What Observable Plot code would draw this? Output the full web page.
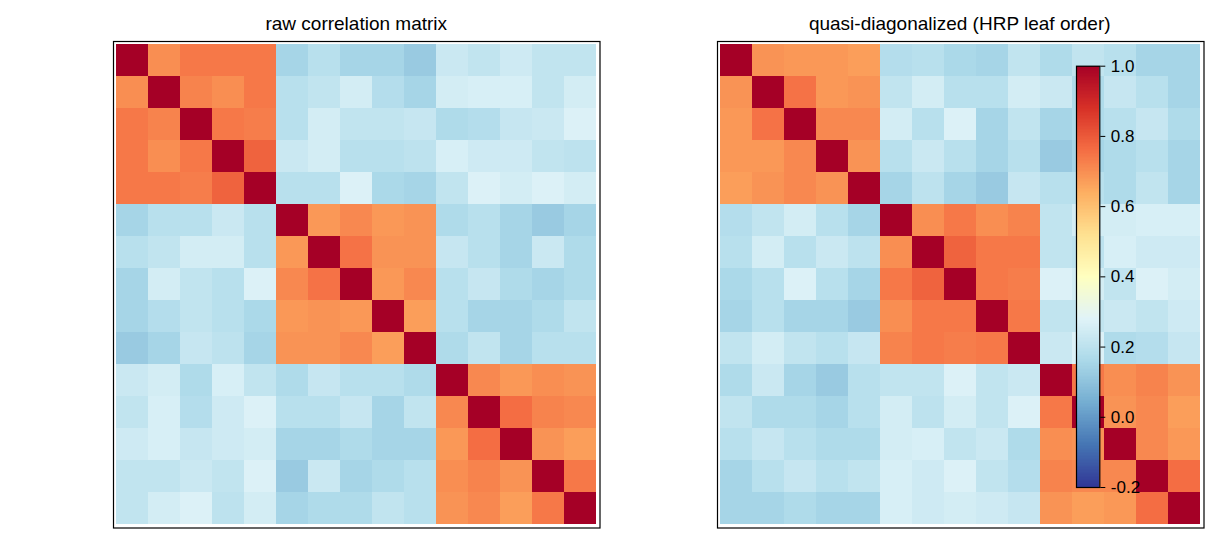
<!DOCTYPE html>
<html>
<head>
<meta charset="utf-8">
<script src="https://cdn.jsdelivr.net/npm/d3@7"></script>
<script src="https://cdn.jsdelivr.net/npm/@observablehq/plot@0.6"></script>
<style>
  html, body { margin: 0; padding: 0; background: #fff; }
  #root { position: relative; width: 1222px; height: 546px; overflow: hidden; font-family: "Liberation Sans", Arial, sans-serif; }
  .panel { position: absolute; }
  .title { position: absolute; font-size: 19px; line-height: 19px; color: #000; text-align: center; white-space: nowrap; }
  svg { overflow: visible; }
</style>
</head>
<body>
<div id="root"></div>
<script>
// ---- data: 15x15 raw correlation matrix ----
const rawCorr = [
  [1.00, 0.70, 0.74, 0.74, 0.74, 0.15, 0.19, 0.15, 0.15, 0.12, 0.23, 0.21, 0.24, 0.21, 0.21],
  [0.70, 1.00, 0.72, 0.70, 0.74, 0.19, 0.21, 0.25, 0.18, 0.15, 0.25, 0.26, 0.26, 0.21, 0.25],
  [0.74, 0.72, 1.00, 0.74, 0.73, 0.19, 0.25, 0.21, 0.21, 0.22, 0.17, 0.18, 0.22, 0.23, 0.27],
  [0.74, 0.70, 0.74, 1.00, 0.78, 0.23, 0.25, 0.19, 0.19, 0.20, 0.26, 0.24, 0.24, 0.21, 0.20],
  [0.74, 0.74, 0.73, 0.78, 1.00, 0.19, 0.19, 0.27, 0.16, 0.15, 0.21, 0.27, 0.25, 0.27, 0.25],
  [0.15, 0.19, 0.19, 0.23, 0.19, 1.00, 0.68, 0.71, 0.68, 0.69, 0.17, 0.19, 0.15, 0.12, 0.15],
  [0.19, 0.21, 0.25, 0.25, 0.19, 0.68, 1.00, 0.75, 0.69, 0.69, 0.22, 0.19, 0.15, 0.23, 0.17],
  [0.15, 0.25, 0.21, 0.19, 0.27, 0.71, 0.75, 1.00, 0.68, 0.71, 0.19, 0.22, 0.17, 0.15, 0.17],
  [0.15, 0.18, 0.21, 0.19, 0.16, 0.68, 0.69, 0.68, 1.00, 0.67, 0.19, 0.15, 0.15, 0.17, 0.21],
  [0.12, 0.15, 0.22, 0.20, 0.15, 0.69, 0.69, 0.71, 0.67, 1.00, 0.17, 0.21, 0.15, 0.19, 0.19],
  [0.23, 0.25, 0.17, 0.26, 0.21, 0.17, 0.22, 0.19, 0.19, 0.17, 1.00, 0.71, 0.68, 0.70, 0.69],
  [0.21, 0.26, 0.18, 0.24, 0.27, 0.19, 0.19, 0.22, 0.15, 0.21, 0.71, 1.00, 0.76, 0.72, 0.71],
  [0.24, 0.26, 0.22, 0.24, 0.25, 0.15, 0.15, 0.17, 0.15, 0.15, 0.68, 0.76, 1.00, 0.69, 0.67],
  [0.21, 0.21, 0.23, 0.21, 0.27, 0.12, 0.23, 0.15, 0.17, 0.19, 0.70, 0.72, 0.69, 1.00, 0.74],
  [0.21, 0.25, 0.27, 0.20, 0.25, 0.15, 0.17, 0.17, 0.21, 0.19, 0.69, 0.71, 0.67, 0.74, 1.00]
];
// HRP leaf order (indices into rawCorr)
const leafOrder = [8, 6, 7, 5, 9, 1, 3, 4, 0, 2, 13, 14, 10, 11, 12];

const titles = ["raw correlation matrix", "quasi-diagonalized (HRP leaf order)"];
const colorbarTicks = [-0.2, 0.0, 0.2, 0.4, 0.6, 0.8, 1.0];
const vmin = -0.2, vmax = 1.0;
// RdYlBu_r colour stops
const cmapColors = ["#313695","#4575b4","#74add1","#abd9e9","#e0f3f8","#ffffbf","#fee090","#fdae61","#f46d43","#d73027","#a50026"];

// ---- build tables ----
const n = rawCorr.length;
const idx = d3.range(n);
const rawCells = [];
const hrpCells = [];
for (const i of idx) for (const j of idx) {
  rawCells.push({row: i, col: j, v: rawCorr[i][j]});
  hrpCells.push({row: i, col: j, v: rawCorr[leafOrder[i]][leafOrder[j]]});
}
const cmapDomain = cmapColors.map((_, k) => vmin + (vmax - vmin) * k / (cmapColors.length - 1));
const colorOpts = {type: "linear", domain: cmapDomain, range: cmapColors, interpolate: "rgb", clamp: true};

const root = document.getElementById("root");
const FONT = "Liberation Sans, Arial, sans-serif";

const size = 486.5, pad = 4;
function heatmap(cells, left, top) {
  const p = Plot.plot({
    width: size + 2 * pad, height: size + 2 * pad,
    margin: pad,
    style: {background: "transparent", overflow: "visible"},
    x: {type: "band", domain: idx, padding: 0, axis: null},
    y: {type: "band", domain: idx, padding: 0, axis: null},
    color: colorOpts,
    marks: [
      Plot.cell(cells, {x: "col", y: "row", fill: "v", shapeRendering: "crispEdges"}),
      Plot.frame({stroke: "#000", strokeWidth: 1.2})
    ]
  });
  const wrap = document.createElement("div");
  wrap.className = "panel";
  wrap.style.left = (left - pad) + "px";
  wrap.style.top = (top - pad) + "px";
  wrap.appendChild(p);
  root.appendChild(wrap);
}
const panelTop = 40.5;
const panelLefts = [113, 716.5];
heatmap(rawCells, panelLefts[0], panelTop);
heatmap(hrpCells, panelLefts[1], panelTop);

// titles
titles.forEach((t, k) => {
  const d = document.createElement("div");
  d.className = "title";
  d.textContent = t;
  d.style.left = panelLefts[k] + "px";
  d.style.width = size + "px";
  d.style.top = "13.5px";
  d.style.fontFamily = FONT;
  root.appendChild(d);
});

// colorbar
const cbLeft = 1066, cbTop = 55, cbW = 120, cbH = 445;
const barX0 = 10, barX1 = 33.3, barY0 = 10.7, barY1 = 487 - cbTop;
const step = 0.004;
const grad = d3.range(vmin, vmax - 1e-9, step).map(s => ({y1: s, y2: Math.min(vmax, s + step), v: s + step / 2}));
const cb = Plot.plot({
  width: cbW, height: cbH,
  marginLeft: barX0, marginRight: cbW - barX1, marginTop: barY0, marginBottom: cbH - barY1,
  style: {background: "transparent", overflow: "visible", fontFamily: FONT, fontSize: "17px", color: "#000"},
  x: {domain: [0, 1], axis: null},
  y: {domain: [vmin, vmax], axis: "right", ticks: colorbarTicks, tickFormat: d => d.toFixed(1), tickSize: 5, tickPadding: 6, label: null},
  color: colorOpts,
  marks: [
    Plot.rect(grad, {x1: 0, x2: 1, y1: "y1", y2: "y2", fill: "v", shapeRendering: "crispEdges"}),
    Plot.frame({stroke: "#000", strokeWidth: 1.2})
  ]
});
const cbWrap = document.createElement("div");
cbWrap.className = "panel";
cbWrap.style.left = cbLeft + "px";
cbWrap.style.top = cbTop + "px";
cbWrap.appendChild(cb);
root.appendChild(cbWrap);
</script>
</body>
</html>
